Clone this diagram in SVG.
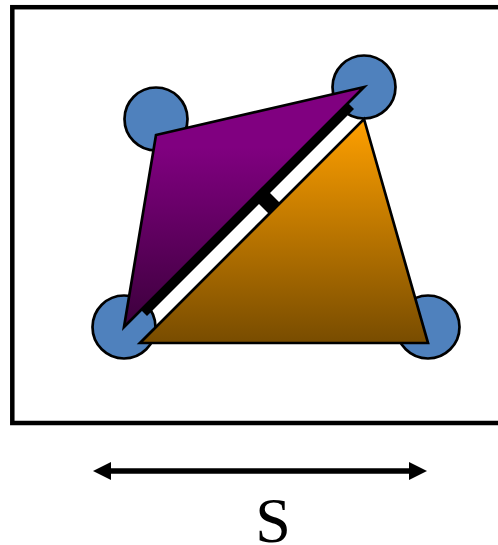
<svg xmlns="http://www.w3.org/2000/svg" width="498" height="545" viewBox="0 0 498 545">
  <defs>
    <linearGradient id="gp" x1="0" y1="0" x2="0" y2="1"><stop offset="0" stop-color="#800080"/><stop offset="0.25" stop-color="#800080"/><stop offset="1" stop-color="#3c003c"/></linearGradient>
    <linearGradient id="go" x1="0" y1="0" x2="0" y2="1"><stop offset="0" stop-color="#ffa000"/><stop offset="1" stop-color="#784c00"/></linearGradient>
    <marker id="ah" markerUnits="userSpaceOnUse" markerWidth="18" markerHeight="18" refX="2" refY="9" orient="auto-start-reverse"><path d="M0 0L18 9L0 18Z" fill="#000"/></marker>
    <style>
      .c{fill:#4f81bd;stroke:#000;stroke-width:2.7}
      .t{stroke:#000;stroke-width:2.7;stroke-linejoin:miter}
      .k{fill:#000}
    </style>
  </defs>
  <rect id="frame" x="12.3" y="7.2" width="500" height="415.8" fill="#fff" stroke="#000" stroke-width="4.500"/>
  <g id="node-tl"><circle class="c" cx="156" cy="119" r="31.500"/></g>
  <g id="node-tr"><circle class="c" cx="364" cy="87" r="31.500"/></g>
  <g id="node-bl"><circle class="c" cx="124" cy="327" r="31.500"/></g>
  <g id="node-br"><circle class="c" cx="428" cy="327" r="31.500"/></g>
  <g id="bar"><polygon class="k" points="141,310 147,316 354,109 348,103"/><polygon class="k" points="258.500,203.500 271,216 282,205 269.500,192.500"/></g>
  <g id="tri-purple"><polygon class="t" fill="url(#gp)" points="156,135 364,87 124,327"/></g>
  <g id="tri-orange"><polygon class="t" fill="url(#go)" points="364,119 428,343 140,343"/></g>
  <g id="connectors"><line x1="109" y1="471" x2="411" y2="471" stroke="#000" stroke-width="5.500" marker-start="url(#ah)" marker-end="url(#ah)"/></g>
  <text x="273" y="542" font-family="'Liberation Serif',serif" font-size="64" text-anchor="middle" fill="#000">S</text>
</svg>
